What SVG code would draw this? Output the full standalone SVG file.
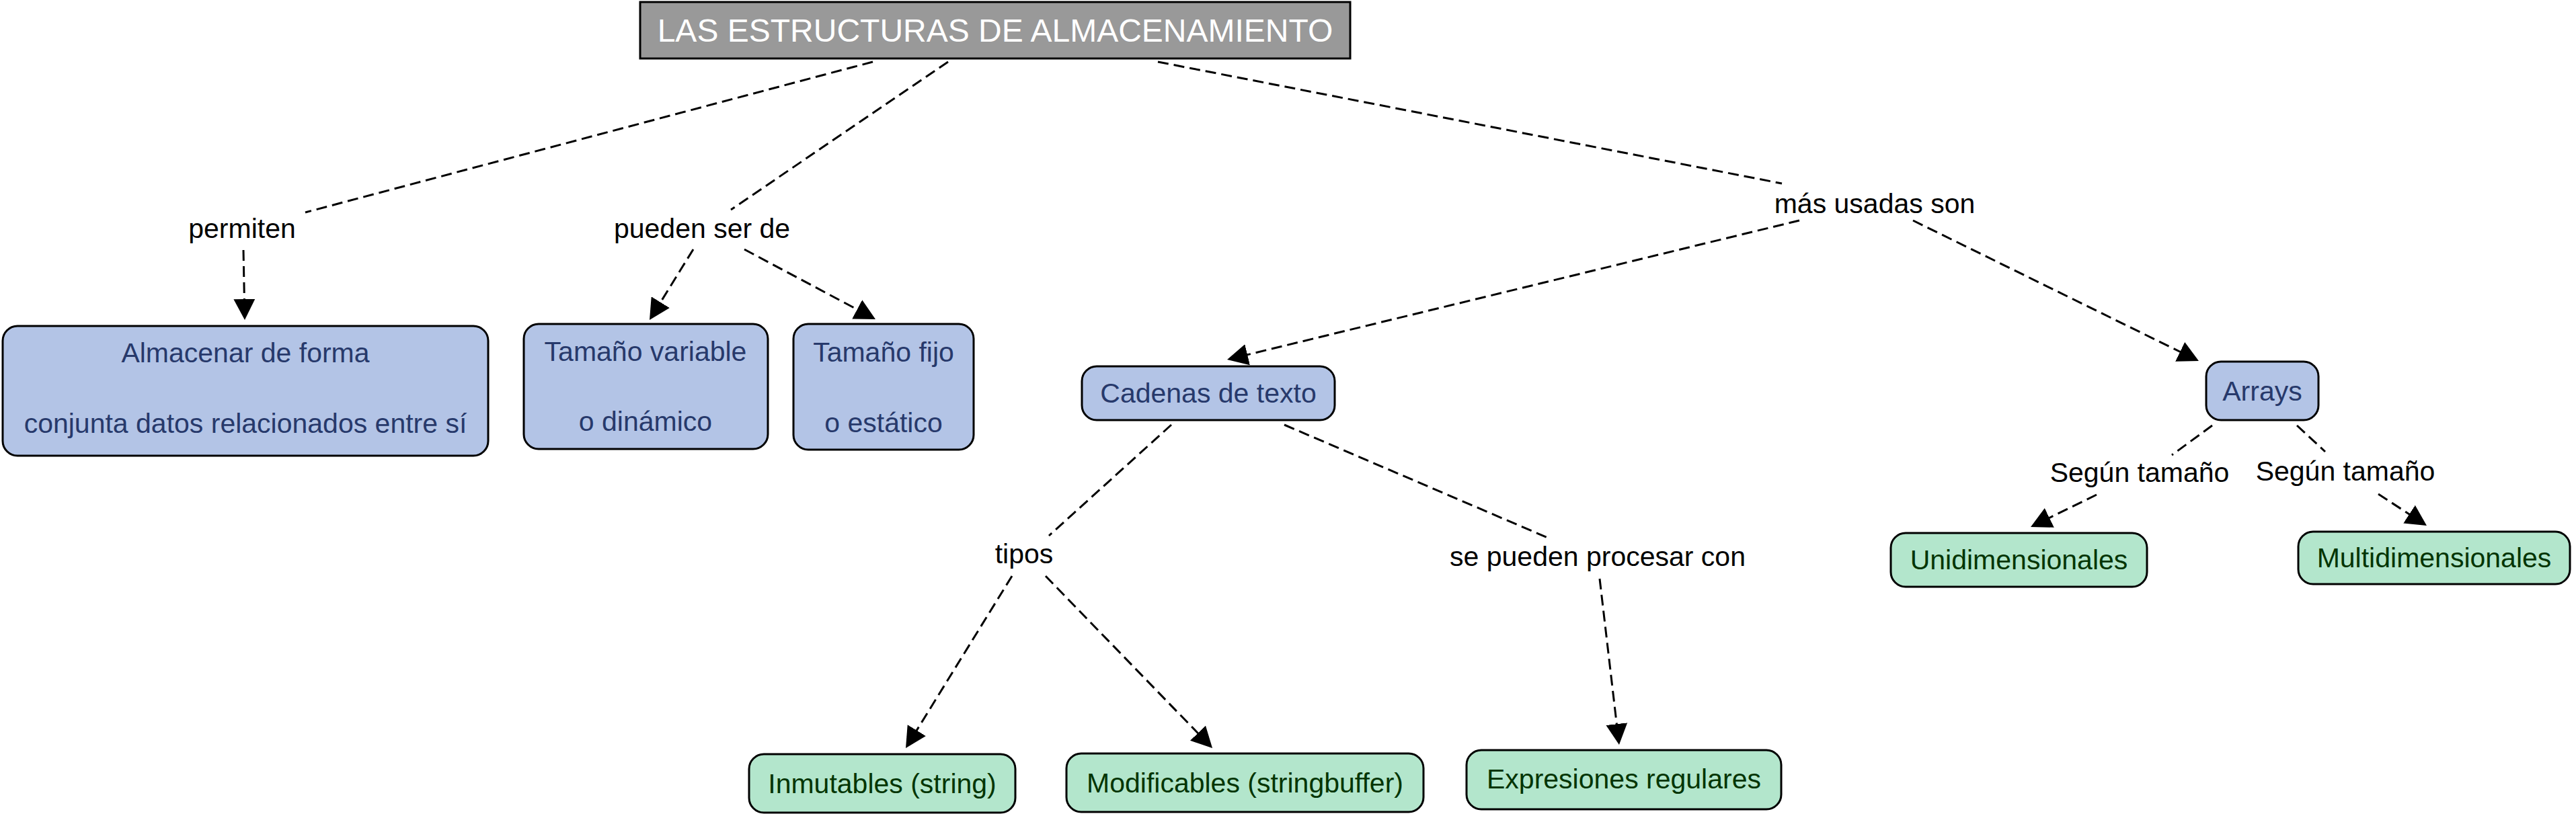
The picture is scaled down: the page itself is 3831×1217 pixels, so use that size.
<svg xmlns="http://www.w3.org/2000/svg" width="3831" height="1217" viewBox="0 0 3831 1217">
<style>
  text { font-family: "Liberation Sans", Arial, sans-serif; font-size: 41px; text-anchor: middle; }
  .title rect { fill: #999999; stroke: #000; stroke-width: 3; }
  .title text { fill: #ffffff; font-size: 48px; }
  .blue rect { fill: #b3c4e6; stroke: #000; stroke-width: 3; }
  .blue text { fill: #27396b; }
  .green rect { fill: #b3e6cc; stroke: #000; stroke-width: 3; }
  .green text { fill: #033503; }
  .lbl text { fill: #000; }
  #connectors line { stroke: #000; stroke-width: 3; stroke-dasharray: 16 8; fill: none; }
  #connectors line.arr { marker-end: url(#ah); }
</style>
<defs>
  <marker id="ah" viewBox="0 0 32 32" markerWidth="32" markerHeight="32" refX="16" refY="16" orient="auto" markerUnits="userSpaceOnUse">
    <path d="M0,0 L31,16 L0,32 Z" fill="#000"/>
  </marker>
</defs>
<rect x="0" y="0" width="3831" height="1217" fill="#ffffff"/>

<g id="connectors">
  <line x1="1298" y1="92" x2="454" y2="316"/>
  <line class="arr" x1="362" y1="372" x2="363.7" y2="461"/>
  <line x1="1410" y1="92" x2="1087" y2="312"/>
  <line class="arr" x1="1031" y1="371" x2="973.9" y2="463.3"/>
  <line class="arr" x1="1107" y1="371" x2="1288.8" y2="467.9"/>
  <line x1="1722" y1="92" x2="2650" y2="273"/>
  <line class="arr" x1="2676" y1="328" x2="1839.6" y2="531.5"/>
  <line class="arr" x1="2845" y1="328" x2="3256.5" y2="530.4"/>
  <line x1="1742" y1="632" x2="1560" y2="797"/>
  <line class="arr" x1="1505" y1="857" x2="1354.9" y2="1100.2"/>
  <line class="arr" x1="1555" y1="857" x2="1792.6" y2="1102.2"/>
  <line x1="1910" y1="632" x2="2304" y2="801"/>
  <line class="arr" x1="2379" y1="861" x2="2406.2" y2="1093.1"/>
  <line x1="3290" y1="633" x2="3230" y2="677"/>
  <line class="arr" x1="3118" y1="736" x2="3033.5" y2="777.4"/>
  <line x1="3416" y1="633" x2="3458" y2="672"/>
  <line class="arr" x1="3537" y1="735" x2="3596.4" y2="773.8"/>
</g>

<g id="n-title" class="title">
  <rect x="952" y="3" width="1056" height="84"/>
  <text x="1480" y="62">LAS ESTRUCTURAS DE ALMACENAMIENTO</text>
</g>

<g id="n-almacenar" class="blue">
  <rect x="4" y="485" width="722" height="193" rx="22" ry="22"/>
  <text x="365" y="539">Almacenar de forma</text>
  <text x="365" y="644">conjunta datos relacionados entre sí</text>
</g>
<g id="n-variable" class="blue">
  <rect x="779" y="482" width="363" height="186" rx="22" ry="22"/>
  <text x="960" y="537">Tamaño variable</text>
  <text x="960" y="641">o dinámico</text>
</g>
<g id="n-fijo" class="blue">
  <rect x="1180" y="482" width="268" height="187" rx="22" ry="22"/>
  <text x="1314" y="538">Tamaño fijo</text>
  <text x="1314" y="643">o estático</text>
</g>
<g id="n-cadenas" class="blue">
  <rect x="1609" y="545" width="376" height="80" rx="22" ry="22"/>
  <text x="1797" y="599">Cadenas de texto</text>
</g>
<g id="n-arrays" class="blue">
  <rect x="3281" y="538" width="167" height="87" rx="22" ry="22"/>
  <text x="3364.5" y="596">Arrays</text>
</g>
<g id="n-uni" class="green">
  <rect x="2812" y="793" width="381" height="80" rx="22" ry="22"/>
  <text x="3002.5" y="847">Unidimensionales</text>
</g>
<g id="n-multi" class="green">
  <rect x="3418" y="791" width="404" height="78" rx="22" ry="22"/>
  <text x="3620" y="844">Multidimensionales</text>
</g>
<g id="n-inmutables" class="green">
  <rect x="1114" y="1122" width="396" height="87" rx="22" ry="22"/>
  <text x="1312" y="1180">Inmutables (string)</text>
</g>
<g id="n-modificables" class="green">
  <rect x="1586" y="1121" width="531" height="87" rx="22" ry="22"/>
  <text x="1851.5" y="1179">Modificables (stringbuffer)</text>
</g>
<g id="n-expresiones" class="green">
  <rect x="2181" y="1116" width="468" height="88" rx="22" ry="22"/>
  <text x="2415" y="1173">Expresiones regulares</text>
</g>

<g id="l-permiten" class="lbl"><text x="360" y="354">permiten</text></g>
<g id="l-pueden" class="lbl"><text x="1044" y="354">pueden ser de</text></g>
<g id="l-masusadas" class="lbl"><text x="2788" y="317">más usadas son</text></g>
<g id="l-tipos" class="lbl"><text x="1523" y="838">tipos</text></g>
<g id="l-procesar" class="lbl"><text x="2376" y="842">se pueden procesar con</text></g>
<g id="l-segun1" class="lbl"><text x="3182" y="717">Según tamaño</text></g>
<g id="l-segun2" class="lbl"><text x="3488" y="715">Según tamaño</text></g>
</svg>
